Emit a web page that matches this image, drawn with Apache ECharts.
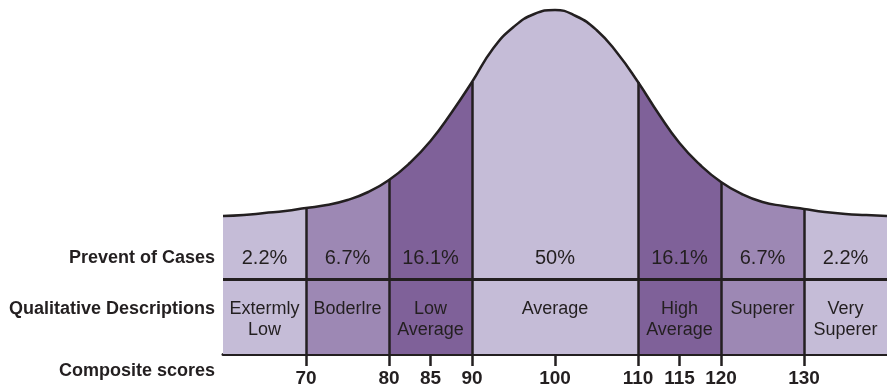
<!DOCTYPE html>
<html>
<head>
<meta charset="utf-8">
<script src="https://cdn.jsdelivr.net/npm/echarts@6/dist/echarts.min.js"></script>
<style>
html,body{margin:0;padding:0;background:#fff;}
#c{width:887px;height:388px;}
</style>
</head>
<body>
<div id="c"></div>
<script>
// ---- data ----
const scores = [60,62.5,65,67.5,70,72.5,75,77.5,80,82.5,85,87.5,90,92.5,95,97.5,100,
  102.5,105,107.5,110,112.5,115,117.5,120,122.5,125,127.5,130,132.5,135,137.5,140];
// curve height above the bottom line of the table (arbitrary units)
const curveHeights = [138,139,141,143,146,149,154,162,174,191,213,241,272,305,327,340,344,
  338,324,301,272,240,211,189,172,160,152,148,145,142,140,139,138];
const boundaries = [70,80,90,110,120,130];
const tickValues = [70,80,85,90,100,110,115,120,130];
const bandStarts = [60,70,80,90,110,120,130];
const bandEnds   = [70,80,90,110,120,130,140];
const bandCenters = [65,75,85,100,115,125,135];
const percentLabels = ['2.2%','6.7%','16.1%','50%','16.1%','6.7%','2.2%'];
const descLabels = ['Extermly\nLow','Boderlre','Low\nAverage','Average','High\nAverage','Superer','Very\nSuperer'];
const rowTitles = ['Prevent of Cases','Qualitative Descriptions','Composite scores'];

// ---- styles ----
const LIGHT = '#C5BCD7', MID = '#9D88B4', DARK = '#7F6199';
const bandColors = [LIGHT, MID, DARK, LIGHT, DARK, MID, LIGHT];
const INK = '#231F20';
const FONT = '"Liberation Sans", Arial, Helvetica, sans-serif';
const ROW1 = 96, ROW2 = 55, SEP = 75;

const curve = scores.map((s, i) => [s, curveHeights[i]]);
const curveAt = v => curveHeights[scores.indexOf(v)];

const chart = echarts.init(document.getElementById('c'), null, {renderer: 'canvas'});
chart.setOption({
  animation: false,
  grid: {left: 223, right: 0, top: 0, bottom: 34},
  xAxis: {
    type: 'value', min: 60, max: 140,
    axisLine: {show: true, onZero: false, lineStyle: {color: INK, width: 3}},
    axisTick: {show: true, customValues: tickValues, length: 12, lineStyle: {color: INK, width: 2.5}},
    axisLabel: {show: true, customValues: tickValues, margin: 15, color: INK,
      fontFamily: FONT, fontWeight: 'bold', fontSize: 19},
    splitLine: {show: false}
  },
  yAxis: {type: 'value', min: 0, max: 354, show: false},
  visualMap: {
    type: 'piecewise', show: false, dimension: 0, seriesIndex: 0,
    pieces: bandStarts.map((s, i) => ({min: s, max: bandEnds[i], color: bandColors[i]}))
  },
  graphic: rowTitles.map((t, i) => ({
    type: 'text', x: 215, y: [258, 309, 371][i],
    style: {text: t, align: 'right', verticalAlign: 'middle', fill: INK,
      font: 'bold 18px ' + FONT}
  })),
  series: [
    {
      type: 'line', data: curve, smooth: 0.5, symbol: 'none',
      lineStyle: {width: 0}, areaStyle: {opacity: 1}, z: 1
    },
    {
      type: 'line', data: curve, smooth: 0.5, symbol: 'none',
      lineStyle: {color: INK, width: 2.5}, z: 3,
      markLine: {
        silent: true, symbol: ['none', 'none'], label: {show: false},
        lineStyle: {color: INK, width: 2.5, type: 'solid'},
        data: boundaries.map(b => [{coord: [b, 0]}, {coord: [b, curveAt(b)]}])
          .concat([{yAxis: SEP, lineStyle: {width: 3}}])
      }
    },
    {
      type: 'scatter', symbolSize: 0, z: 4, itemStyle: {opacity: 1},
      data: bandCenters.map((c, i) => ({value: [c, ROW1], name: percentLabels[i]})),
      label: {show: true, position: 'inside', formatter: p => p.name, color: INK, opacity: 1,
        fontFamily: FONT, fontSize: 20}
    },
    {
      type: 'scatter', symbolSize: 0, z: 4, itemStyle: {opacity: 1},
      data: bandCenters.map((c, i) => ({value: [c, ROW2], name: descLabels[i]})),
      label: {show: true, position: 'inside', verticalAlign: 'top', formatter: p => p.name, color: INK, opacity: 1,
        fontFamily: FONT, fontSize: 18, lineHeight: 21, align: 'center'}
    }
  ]
});
</script>
</body>
</html>
